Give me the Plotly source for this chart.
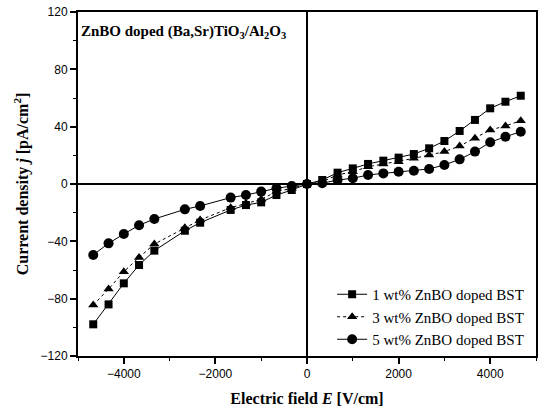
import plotly.graph_objects as go

field = [-4667, -4333, -4000, -3667, -3333, -2667, -2333, -1667, -1333, -1000, -667, -333, 0,
         333, 667, 1000, 1333, 1667, 2000, 2333, 2667, 3000, 3333, 3667, 4000, 4333, 4667]

j_1wt = [-97.9, -84.0, -69.3, -56.5, -46.5, -32.6, -27.0, -18.1, -14.7, -12.8, -7.7, -4.2, 0,
         2.8, 7.9, 10.9, 14.0, 16.3, 18.4, 20.9, 24.9, 30.0, 37.0, 44.7, 52.8, 57.4, 61.6]
j_3wt = [-84.4, -73.3, -61.2, -51.2, -41.9, -30.5, -25.1, -16.5, -13.5, -10.7, -5.3, -3.0, 0,
         1.6, 6.3, 8.6, 12.0, 14.0, 15.6, 17.9, 20.2, 22.6, 26.5, 31.9, 37.7, 40.5, 44.2]
j_5wt = [-49.5, -41.4, -34.9, -28.8, -24.4, -17.7, -15.3, -9.5, -7.7, -5.3, -3.0, -1.4, 0,
         0.5, 2.8, 4.0, 6.3, 7.4, 8.6, 9.3, 10.5, 13.3, 17.2, 22.6, 29.1, 33.0, 36.5]

names = ["1 wt% ZnBO doped BST", "3 wt% ZnBO doped BST", "5 wt% ZnBO doped BST"]

x_ticks = [-4000, -2000, 0, 2000, 4000]
y_ticks = [-120, -80, -40, 0, 40, 80, 120]

fig = go.Figure()
styles = [("square", "solid", 8), ("triangle-up", "dot", 9), ("circle", "solid", 10)]
for name, ys, (sym, dash, ms) in zip(names, [j_1wt, j_3wt, j_5wt], styles):
    fig.add_trace(go.Scatter(
        x=field, y=ys, name=name, mode="lines+markers",
        line=dict(color="black", width=1, dash=dash),
        marker=dict(symbol=sym, size=ms, color="black"),
    ))

serif = "Liberation Serif, Times New Roman, serif"
sans = "Liberation Sans, Arial, sans-serif"

fig.update_layout(
    width=541, height=411,
    margin=dict(l=78, r=5, t=12, b=55),
    paper_bgcolor="white", plot_bgcolor="white",
    showlegend=True,
    legend=dict(
        x=0.985, y=0.0, xanchor="right", yanchor="bottom",
        bgcolor="rgba(0,0,0,0)", borderwidth=0,
        font=dict(family=serif, size=15, color="black"),
        itemwidth=30, tracegroupgap=0,
    ),
    xaxis=dict(
        range=[-5000, 5000], tickvals=x_ticks, automargin=False,
        showgrid=False, zeroline=True, zerolinecolor="black", zerolinewidth=1.5,
        showline=True, linecolor="black", linewidth=2, mirror=True,
        ticks="outside", ticklen=6, tickwidth=1.5, tickcolor="black",
        minor=dict(ticks="outside", ticklen=3, tickwidth=1, tickcolor="black", dtick=1000),
        tickfont=dict(family=sans, size=12, color="black"),
        title=dict(text="<b>Electric field <i>E</i> [V/cm]</b>",
                   font=dict(family=serif, size=16, color="black"), standoff=12),
    ),
    yaxis=dict(
        range=[-120, 120], tickvals=y_ticks, automargin=False,
        showgrid=False, zeroline=True, zerolinecolor="black", zerolinewidth=1.5,
        showline=True, linecolor="black", linewidth=2, mirror=True,
        ticks="outside", ticklen=6, tickwidth=1.5, tickcolor="black",
        minor=dict(ticks="outside", ticklen=3, tickwidth=1, tickcolor="black", dtick=20),
        tickfont=dict(family=sans, size=12, color="black"),
        title=dict(text="<b>Current density <i>j</i> [pA/cm<sup>2</sup>]</b>",
                   font=dict(family=serif, size=16, color="black"), standoff=8),
    ),
    annotations=[dict(
        text="<b>ZnBO doped (Ba,Sr)TiO<sub>3</sub>/Al<sub>2</sub>O<sub>3</sub></b>",
        xref="paper", yref="paper", x=0.003, y=0.975, xanchor="left", yanchor="top",
        showarrow=False, font=dict(family=serif, size=15, color="black"),
    )],
)

# remove the browser's default 8px body margin so the figure fills the window
fig.write_html("out.html", config={"displayModeBar": False},
               post_script="document.body.style.margin='0';")
